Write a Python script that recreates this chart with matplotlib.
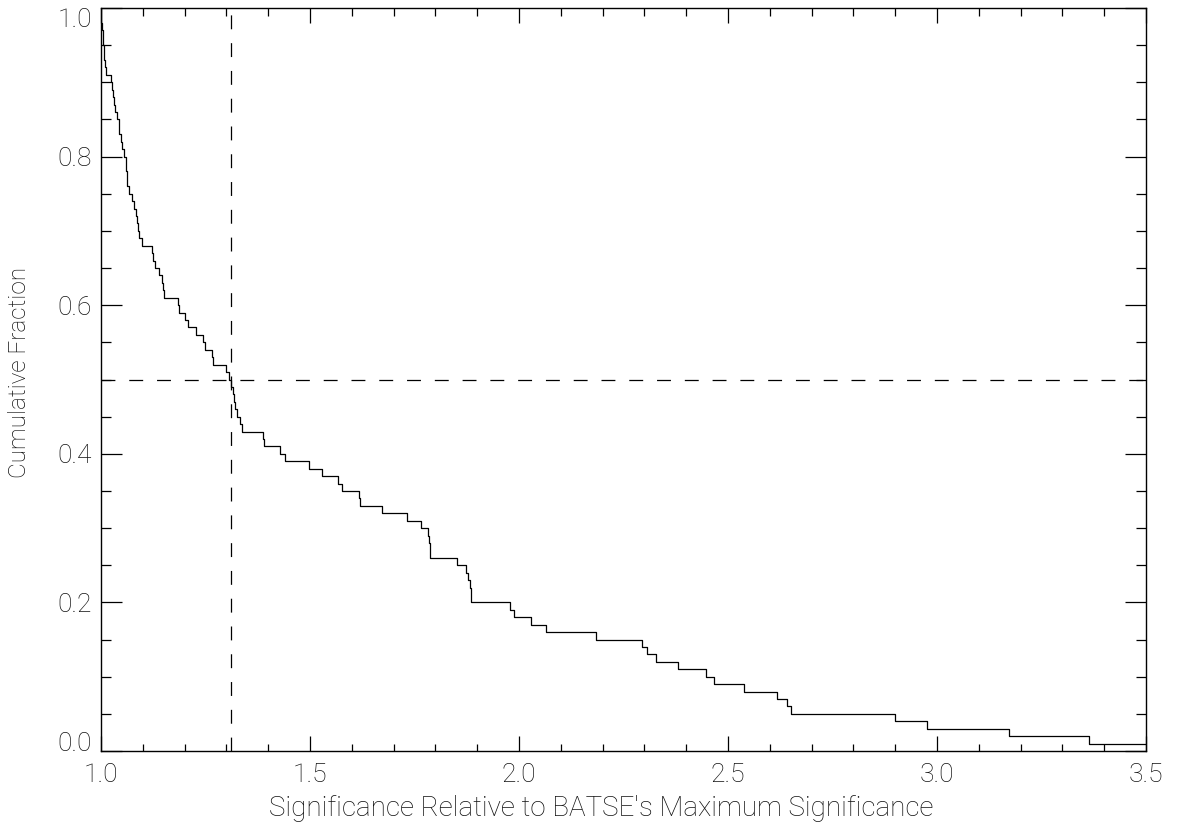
import matplotlib
matplotlib.use("Agg")
import matplotlib.pyplot as plt
from matplotlib.ticker import MultipleLocator, FormatStrFormatter

# ---- data ----
# cumulative fraction levels (step heights)
frac_levels = [1.00, 0.99, 0.98, 0.97, 0.96, 0.95, 0.94, 0.93, 0.92, 0.91,
               0.90, 0.89, 0.88, 0.87, 0.86, 0.85, 0.84, 0.83, 0.82, 0.81,
               0.80, 0.79, 0.78, 0.77, 0.76, 0.75, 0.74, 0.73, 0.72, 0.71,
               0.70, 0.69, 0.68, 0.67, 0.66, 0.65, 0.64, 0.63, 0.62, 0.61,
               0.60, 0.59, 0.58, 0.57, 0.56, 0.55, 0.54, 0.53, 0.52, 0.51,
               0.50, 0.49, 0.48, 0.47, 0.46, 0.45, 0.44, 0.43, 0.42, 0.41,
               0.40, 0.39, 0.38, 0.37, 0.36, 0.35, 0.34, 0.33, 0.32, 0.31,
               0.30, 0.29, 0.28, 0.27, 0.26, 0.25, 0.24, 0.23, 0.22, 0.21,
               0.20, 0.19, 0.18, 0.17, 0.16, 0.15, 0.14, 0.13, 0.12, 0.11,
               0.10, 0.09, 0.08, 0.07, 0.06, 0.05, 0.04, 0.03, 0.02, 0.01]

# significance value at which each level ends (drops to the next one)
sig_drops = [1.001, 1.001, 1.002, 1.004, 1.005, 1.006, 1.008, 1.010, 1.012, 1.025,
             1.026, 1.028, 1.030, 1.033, 1.039, 1.042, 1.044, 1.047, 1.050, 1.056,
             1.060, 1.061, 1.062, 1.063, 1.068, 1.075, 1.079, 1.083, 1.086, 1.088,
             1.092, 1.098, 1.123, 1.124, 1.130, 1.139, 1.145, 1.148, 1.150, 1.185,
             1.187, 1.201, 1.207, 1.227, 1.243, 1.248, 1.266, 1.267, 1.298, 1.307,
             1.312, 1.315, 1.317, 1.321, 1.325, 1.333, 1.337, 1.388, 1.389, 1.428,
             1.440, 1.498, 1.529, 1.567, 1.577, 1.617, 1.620, 1.672, 1.732, 1.766,
             1.782, 1.785, 1.786, 1.788, 1.852, 1.873, 1.878, 1.882, 1.884, 1.886,
             1.978, 1.988, 2.029, 2.065, 2.184, 2.294, 2.306, 2.328, 2.380, 2.447,
             2.467, 2.538, 2.617, 2.641, 2.651, 2.900, 2.976, 3.172, 3.364]

x_start = 1.0
x_end = 3.5
median_sig = 1.311
median_frac = 0.5

x_ticks = [1.0, 1.5, 2.0, 2.5, 3.0, 3.5]
y_ticks = [0.0, 0.2, 0.4, 0.6, 0.8, 1.0]

# ---- figure ----
plt.rcParams['font.family'] = ['Roboto', 'DejaVu Sans']
plt.rcParams['font.weight'] = 'light'
plt.rcParams['lines.scale_dashes'] = False

W, H = 1183, 834
fig = plt.figure(figsize=(W / 100, H / 100), dpi=100)
ax = fig.add_axes([101 / W, 83 / H, 1045 / W, 743 / H])

xs = [x_start] + sig_drops + [x_end]
ys = frac_levels + [frac_levels[-1]]
ax.step(xs, ys, where='post', color='black', lw=0.9, clip_on=True)

ax.axhline(median_frac, color='black', lw=0.9, dashes=(10, 10))
ax.axvline(median_sig, color='black', lw=0.9, dashes=(10, 10))

ax.set_xlim(x_start, x_end)
ax.set_ylim(0.0, 1.0)

ax.set_xticks(x_ticks)
ax.set_yticks(y_ticks)
ax.xaxis.set_major_formatter(FormatStrFormatter('%.1f'))
ax.yaxis.set_major_formatter(FormatStrFormatter('%.1f'))
ax.xaxis.set_minor_locator(MultipleLocator(0.1))
ax.yaxis.set_minor_locator(MultipleLocator(0.05))

ax.tick_params(axis='both', which='both', direction='in', top=True, right=True,
               width=0.9, color='black', labelsize=19, labelcolor='#111111')
ax.tick_params(axis='x', which='major', length=10.8, pad=8.5)
ax.tick_params(axis='x', which='minor', length=5.4)
ax.tick_params(axis='y', which='major', length=15.1, pad=6.5)
ax.tick_params(axis='y', which='minor', length=7.5)

for sp in ax.spines.values():
    sp.set_linewidth(1.0)
    sp.set_color('black')

ylabels = ax.get_yticklabels()
ylabels[0].set_va('baseline')
ylabels[-1].set_va('top')

ax.set_xlabel("Significance Relative to BATSE's Maximum Significance",
              fontsize=20, color='#111111', fontweight='light')
ax.set_ylabel("Cumulative Fraction", fontsize=17.5, color='#111111',
              fontweight='light')
ax.xaxis.label.set_va('center')
ax.yaxis.label.set_va('center')
ax.xaxis.set_label_coords((601 - 101) / 1045, -(809 - 751) / 743)
ax.yaxis.set_label_coords((20 - 101) / 1045, (751 - 372) / 743)

fig.savefig("out.png", dpi=100)
